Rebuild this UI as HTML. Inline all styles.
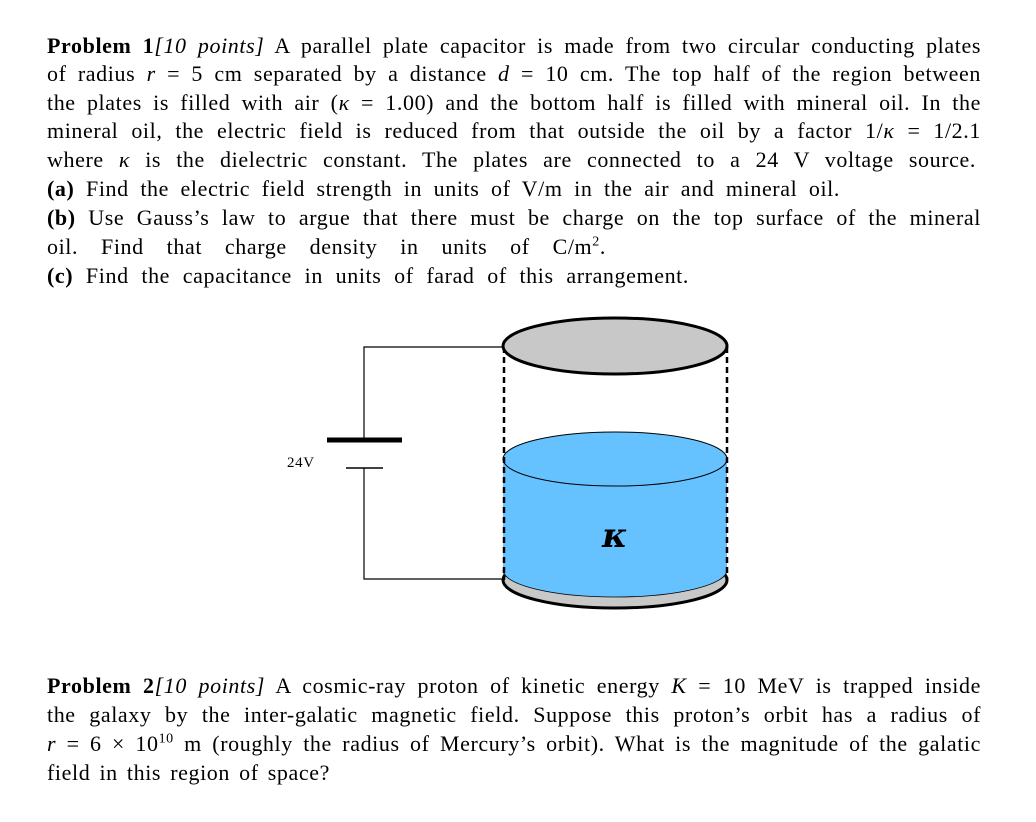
<!DOCTYPE html>
<html><head><meta charset="utf-8"><style>
body{margin:0;background:#fff;width:1036px;height:822px;position:relative;overflow:hidden;font-family:"Liberation Serif",serif;font-size:22px;letter-spacing:0.6px;color:#000}
.l{position:absolute;left:47px;height:28px;line-height:28px;white-space:nowrap;text-align:justify;text-align-last:justify;overflow:visible}
i{font-style:italic}
</style></head><body>
<div class="l" style="top:32px;width:934px"><b>Problem 1</b><i>[10 points]</i> A parallel plate capacitor is made from two circular conducting plates</div>
<div class="l" style="top:60px;width:934px">of radius <i>r</i> = 5 cm separated by a distance <i>d</i> = 10 cm. The top half of the region between</div>
<div class="l" style="top:89px;width:934px">the plates is filled with air (<i>κ</i> = 1.00) and the bottom half is filled with mineral oil. In the</div>
<div class="l" style="top:117px;width:934px">mineral oil, the electric field is reduced from that outside the oil by a factor 1/<i>κ</i> = 1/2.1</div>
<div class="l" style="top:146px;width:929px">where <i>κ</i> is the dielectric constant. The plates are connected to a 24 V voltage source.</div>
<div class="l" style="top:175px;width:793px"><b>(a)</b> Find the electric field strength in units of V/m in the air and mineral oil.</div>
<div class="l" style="top:204px;width:934px"><b>(b)</b> Use Gauss’s law to argue that there must be charge on the top surface of the mineral</div>
<div class="l" style="top:233px;width:559px">oil. Find that charge density in units of C/m<sup style="font-size:14px;line-height:0">2</sup>.</div>
<div class="l" style="top:262px;width:642px"><b>(c)</b> Find the capacitance in units of farad of this arrangement.</div>

<svg style="position:absolute;left:0;top:0" width="1036" height="822">
<polyline points="503,347 364,347 364,440" fill="none" stroke="#000" stroke-width="1.2"/>
<polyline points="364,468 364,579 503,579" fill="none" stroke="#000" stroke-width="1.2"/>
<line x1="327" y1="440" x2="402" y2="440" stroke="#000" stroke-width="5"/>
<line x1="346" y1="468" x2="383" y2="468" stroke="#000" stroke-width="1.5"/>
<text x="287" y="467" font-family="Liberation Serif" font-size="15">24V</text>
<ellipse cx="615" cy="580" rx="112" ry="28" fill="#c8c8c8" stroke="#000" stroke-width="3"/>
<path d="M503,459 L503,570 A112,27 0 0 0 727,570 L727,459 Z" fill="#66c2ff"/>
<ellipse cx="615" cy="459" rx="112" ry="27" fill="#66c2ff" stroke="#000" stroke-width="1"/>
<path d="M503,570 A112,27 0 0 0 727,570" fill="none" stroke="#000" stroke-width="0.8"/>
<line x1="504" y1="347" x2="504" y2="580" stroke="#000" stroke-width="2.5" stroke-dasharray="6,4"/>
<line x1="727" y1="347" x2="727" y2="580" stroke="#000" stroke-width="2.5" stroke-dasharray="6,4"/>
<ellipse cx="615" cy="346" rx="112" ry="28" fill="#c8c8c8" stroke="#000" stroke-width="3"/>
<text x="615" y="547" text-anchor="middle" font-family="DejaVu Serif" font-weight="bold" font-style="italic" font-size="34">κ</text>
</svg>

<div class="l" style="top:672px;width:934px"><b>Problem 2</b><i>[10 points]</i> A cosmic-ray proton of kinetic energy <i>K</i> = 10 MeV is trapped inside</div>
<div class="l" style="top:701px;width:934px">the galaxy by the inter-galatic magnetic field. Suppose this proton’s orbit has a radius of</div>
<div class="l" style="top:730px;width:934px"><i>r</i> = 6 × 10<sup style="font-size:14px;line-height:0">10</sup> m (roughly the radius of Mercury’s orbit). What is the magnitude of the galatic</div>
<div class="l" style="top:759px;width:283px">field in this region of space?</div>
</body></html>
